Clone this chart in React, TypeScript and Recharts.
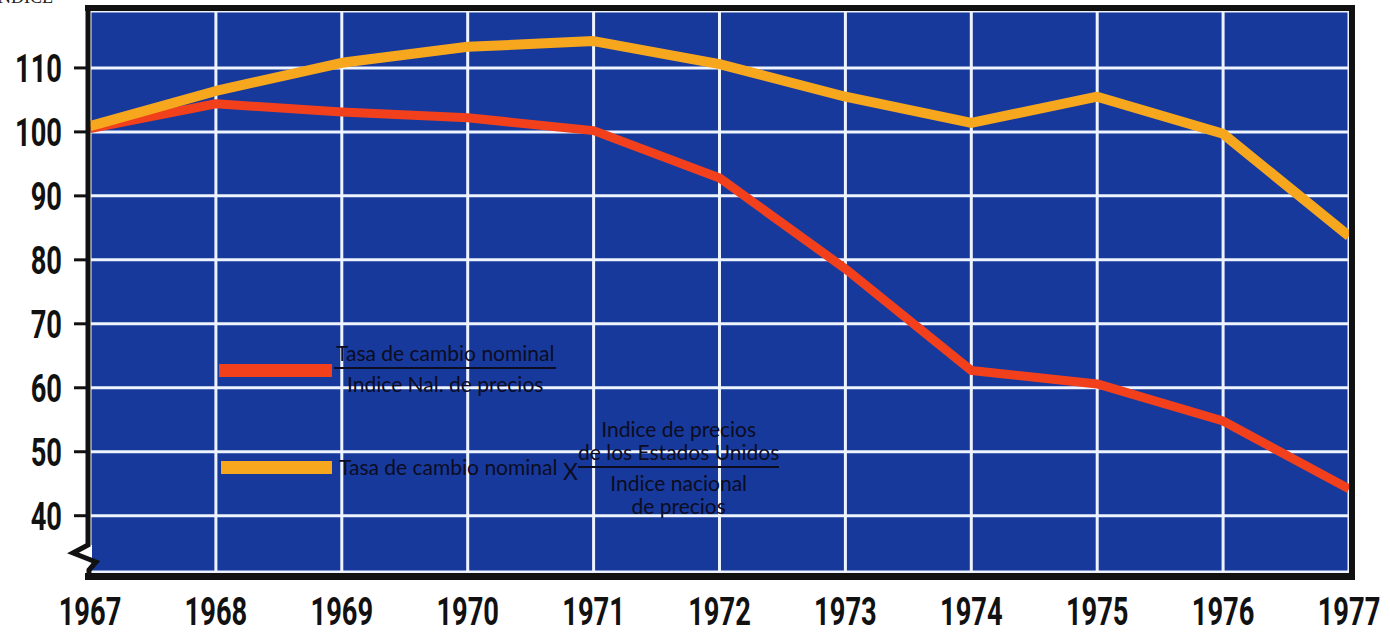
import { LineChart, Line, XAxis, YAxis, CartesianGrid } from 'recharts';

const years = ['1967', '1968', '1969', '1970', '1971', '1972', '1973', '1974', '1975', '1976', '1977'];
const realRate = [100.5, 104.4, 103.1, 102.2, 100.2, 92.8, 78.6, 62.7, 60.6, 54.8, 44.2];
const adjustedRate = [100.9, 106.4, 110.8, 113.3, 114.2, 110.6, 105.5, 101.4, 105.5, 99.7, 83.7];
const yTicks = [40, 50, 60, 70, 80, 90, 100, 110];

const data = years.map((year, i) => ({
    year,
    real: realRate[i],
    adjusted: adjustedRate[i],
}));

const BLUE = '#17399c';
const RED = '#f2401d';
const ORANGE = '#f7a71e';
const INK = '#0c0c22';
const numFont = 'Roboto, "DejaVu Sans", sans-serif';
const legendFont = 'Lato, "Open Sans", sans-serif';

// condensed bold numerals, squeezed horizontally like the printed original
const YTick = ({ x, y, payload }: any) => (
    <g transform={`translate(${x},${y})`}>
        <text transform="scale(0.7,1)" dy={14} textAnchor="end" fill="#111"
            fontFamily={numFont} fontWeight="bold" fontSize={39}>
            {payload.value}
        </text>
    </g>
);

const XTick = ({ x, y, payload }: any) => (
    <g transform={`translate(${x},${y})`}>
        <text transform="scale(0.7,1)" dy={41} textAnchor="middle" fill="#111"
            fontFamily={numFont} fontWeight="bold" fontSize={39}>
            {payload.value}
        </text>
    </g>
);

export default function App() {
    return (
        <div style={{ position: 'fixed', left: 0, top: 0, width: 1390, height: 634, background: '#fff', overflow: 'hidden' }}>
            <LineChart width={1390} height={634} data={data}
                margin={{ top: 11, right: 41, left: 0, bottom: 0 }}>
                <CartesianGrid fill={BLUE} stroke="#eef4ff" strokeWidth={3} fillOpacity={1} />
                <XAxis dataKey="year" axisLine={false} tickLine={false} tickMargin={6}
                    height={62} tick={<XTick />} interval={0} />
                <YAxis domain={[31.2, 118.9]} ticks={yTicks} width={90} axisLine={false}
                    tickLine={{ stroke: '#111', strokeWidth: 3 }} tickSize={16} tickMargin={12}
                    tick={<YTick />} allowDataOverflow />
                <Line dataKey="real" stroke={RED} strokeWidth={9} dot={false}
                    strokeLinejoin="round" isAnimationActive={false} />
                <Line dataKey="adjusted" stroke={ORANGE} strokeWidth={10} dot={false}
                    strokeLinejoin="round" isAnimationActive={false} />
            </LineChart>

            {/* frame: top, right, bottom as a box; left side drawn with the axis break */}
            <div style={{ position: 'absolute', left: 85, top: 5, width: 1270, height: 575, borderTop: '6px solid #111', borderRight: '6px solid #111', borderBottom: '7px solid #111', boxSizing: 'border-box', pointerEvents: 'none' }} />
            <svg style={{ position: 'absolute', left: 0, top: 0, pointerEvents: 'none' }} width={1390} height={634}>
                <polygon points="86,545 72,553 92,562 92,545" fill="#fff" />
                <polyline points="88,5 88,545 73,553 96,562 89,570 89,580" fill="none" stroke="#111" strokeWidth={5} strokeLinejoin="miter" />
            </svg>

            <div style={{ position: 'absolute', left: -8, top: -13, fontFamily: 'serif', fontSize: 18, color: '#222' }}>ÍNDICE</div>

            {/* legend */}
            <div style={{ position: 'absolute', left: 219, top: 364, width: 113, height: 13, background: RED }} />
            <div style={{ position: 'absolute', left: 334, top: 340, fontFamily: legendFont, fontSize: 21, color: INK, textAlign: 'center', lineHeight: '26px' }}>
                <div style={{ borderBottom: `2px solid ${INK}`, padding: '0 2px 1px' }}>Tasa de cambio nominal</div>
                <div style={{ paddingTop: 2 }}>Indice Nal. de precios</div>
            </div>

            <div style={{ position: 'absolute', left: 221, top: 461, width: 111, height: 13, background: ORANGE }} />
            <div style={{ position: 'absolute', left: 339, top: 454, fontFamily: legendFont, fontSize: 21, color: INK }}>Tasa de cambio nominal</div>
            <div style={{ position: 'absolute', left: 563, top: 457, fontFamily: legendFont, fontSize: 23, color: INK }}>X</div>
            <div style={{ position: 'absolute', left: 578, top: 417, fontFamily: legendFont, fontSize: 21, color: INK, textAlign: 'center', lineHeight: '23px' }}>
                <div>Indice de precios</div>
                <div style={{ borderBottom: `2px solid ${INK}`, paddingBottom: 3 }}>de los Estados Unidos</div>
                <div style={{ paddingTop: 3 }}>Indice nacional</div>
                <div>de precios</div>
            </div>
        </div>
    );
}
